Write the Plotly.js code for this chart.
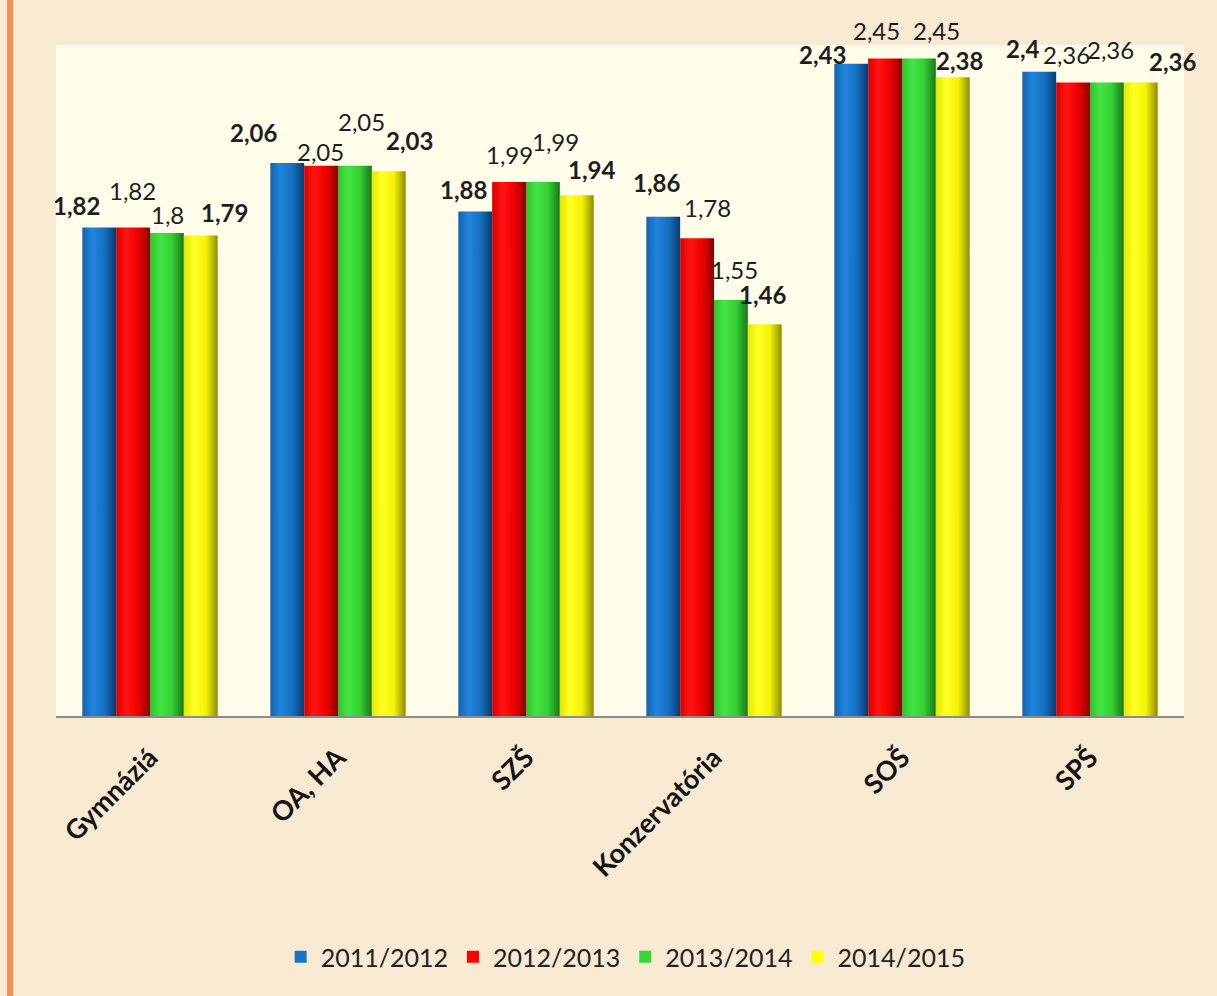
<!DOCTYPE html>
<html>
<head>
<meta charset="utf-8">
<script src="https://cdn.plot.ly/plotly-3.0.1.min.js"></script>
<style>
  html, body { margin: 0; padding: 0; background: #f7e9d2; }
  #chart { width: 1217px; height: 996px; }
</style>
</head>
<body>
<div id="chart"></div>
<script>
// ---- data ----
const categories = ["Gymnáziá", "OA, HA", "SZŠ", "Konzervatória", "SOŠ", "SPŠ"];
const seriesNames = ["2011/2012", "2012/2013", "2013/2014", "2014/2015"];
const v2011 = [1.82, 2.06, 1.88, 1.86, 2.43, 2.40];
const v2012 = [1.82, 2.05, 1.99, 1.78, 2.45, 2.36];
const v2013 = [1.80, 2.05, 1.99, 1.55, 2.45, 2.36];
const v2014 = [1.79, 2.03, 1.94, 1.46, 2.38, 2.36];

// ---- styles ----
const colors = ["#1874c8", "#ff0000", "#36d836", "#ffff00"];
const gradStops = [
  [["0", "#1464ae"], ["0.3", "#2084dc"], ["0.65", "#1670c2"], ["1", "#0a3b6b"]],
  [["0", "#dc0000"], ["0.3", "#ff1414"], ["0.65", "#f00000"], ["1", "#8a0000"]],
  [["0", "#2cc42c"], ["0.3", "#44e444"], ["0.65", "#34d034"], ["1", "#187818"]],
  [["0", "#e6e600"], ["0.3", "#ffff24"], ["0.65", "#f4f400"], ["1", "#8c8c00"]]
];
const labelBold = [true, false, false, true];
// label nudges (px) relative to each bar top, like the hand-placed labels of the original
const labelDx = [
  [-23, -34, -12, -7, -29, -16],
  [-1, -1, 0, 10, -9, -7],
  [1, 7, 13, 4, 18, 4],
  [24, 21, 15, -2, 7, 32]
];
const labelDy = [
  [22, 31, 22, 34, 9, 23],
  [37, 14, 27, 31, 28, 28],
  [18, 44, 40, 30, 28, 33],
  [23, 31, 26, 30, 17, 21]
];

const allValues = [v2011, v2012, v2013, v2014];
const bargap = 0.28;
const barFrac = (1 - bargap) / allValues.length;

const traces = allValues.map((vals, j) => ({
  type: "bar",
  name: seriesNames[j],
  x: categories,
  y: vals,
  marker: { color: colors[j], line: { width: 0 } },
  hoverinfo: "x+y+name"
}));

const fmt = v => String(v).replace(".", ",");

const annotations = [];
allValues.forEach((vals, j) => {
  vals.forEach((v, i) => {
    annotations.push({
      x: i + (j - 1.5) * barFrac,
      y: v,
      xref: "x",
      yref: "y",
      text: labelBold[j] ? "<b>" + fmt(v) + "</b>" : fmt(v),
      showarrow: false,
      xanchor: "center",
      yanchor: "middle",
      xshift: labelDx[j][i],
      yshift: labelDy[j][i],
      font: { family: "Lato, 'Open Sans', sans-serif", size: 24, color: "#1e1e1e" }
    });
  });
});

// orange strip on the far left (paper coords computed from the margins)
const ml = 56, mr = 33, mt = 45, mb = 280, W = 1217, H = 996;
const pw = W - ml - mr, ph = H - mt - mb;

const layout = {
  width: W,
  height: H,
  margin: { l: ml, r: mr, t: mt, b: mb, pad: 0 },
  paper_bgcolor: "#f7e9d2",
  plot_bgcolor: "#fffcea",
  barmode: "group",
  bargap: bargap,
  bargroupgap: 0,
  showlegend: true,
  legend: {
    orientation: "h",
    x: 0.505,
    xanchor: "center",
    y: (716 - 957) / ph,
    yanchor: "middle",
    font: { family: "Lato, 'Open Sans', sans-serif", size: 25, color: "#222222" },
    itemwidth: 30,
    tracegroupgap: 0,
    bgcolor: "rgba(0,0,0,0)"
  },
  xaxis: {
    type: "category",
    range: [-0.5, 5.5],
    showline: true,
    linecolor: "#8c8c8c",
    linewidth: 2,
    ticks: "",
    tickangle: -45,
    ticklabelstandoff: 13,
    tickfont: { family: "Lato, 'Open Sans', sans-serif", size: 27, color: "#141414", weight: "bold" },
    showgrid: false,
    zeroline: false,
    fixedrange: true
  },
  yaxis: {
    range: [0, 2.5],
    visible: false,
    showgrid: false,
    zeroline: false,
    fixedrange: true
  },
  shapes: [
    {
      type: "rect",
      xref: "paper", yref: "paper",
      x0: (7 - ml) / pw, x1: (13 - ml) / pw,
      y0: -mb / ph, y1: 1 + mt / ph,
      fillcolor: "#f39359",
      line: { width: 0 },
      layer: "above"
    }
  ],
  annotations: annotations,
  separators: ", "
};

Plotly.newPlot("chart", traces, layout, { displayModeBar: false, staticPlot: true }).then(gd => {
  // cylinder-like horizontal shading on the bars
  const svg = gd.querySelector(".main-svg");
  const NS = "http://www.w3.org/2000/svg";
  let defs = svg.querySelector("defs");
  if (!defs) { defs = document.createElementNS(NS, "defs"); svg.insertBefore(defs, svg.firstChild); }
  gradStops.forEach((stops, j) => {
    const lg = document.createElementNS(NS, "linearGradient");
    lg.setAttribute("id", "barGrad" + j);
    lg.setAttribute("x1", "0"); lg.setAttribute("y1", "0");
    lg.setAttribute("x2", "1"); lg.setAttribute("y2", "0");
    stops.forEach(([off, col]) => {
      const s = document.createElementNS(NS, "stop");
      s.setAttribute("offset", off);
      s.setAttribute("stop-color", col);
      lg.appendChild(s);
    });
    defs.appendChild(lg);
  });
  const traceGroups = gd.querySelectorAll(".barlayer .trace");
  traceGroups.forEach((tg, j) => {
    tg.querySelectorAll(".point path").forEach(p => {
      p.style.fill = "url(#barGrad" + j + ")";
    });
  });
});
</script>
</body>
</html>
